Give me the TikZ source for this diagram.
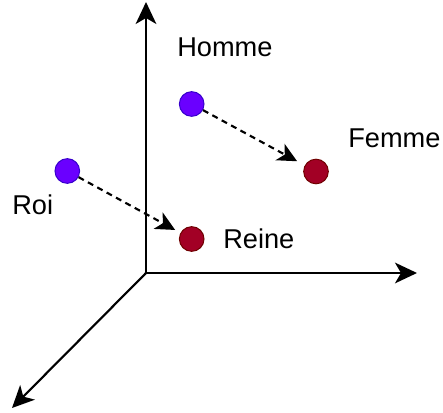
\documentclass[tikz,border=0pt]{standalone}
\usepackage{fontspec}
\setmainfont{Liberation Sans}
\usetikzlibrary{arrows.meta}
\definecolor{vfill}{HTML}{6A00FF}
\definecolor{vdraw}{HTML}{3700CC}
\definecolor{rfill}{HTML}{A20025}
\definecolor{rdraw}{HTML}{6F0000}
\tikzset{
  px/.style={x=0.75pt,y=-0.75pt},
  axis/.style={line width=1.6pt,-{Stealth[length=16.5pt,width=15.5pt,inset=4.5pt]}},
  vec/.style={line width=1.6pt,dash pattern=on 4.5pt off 3.5pt,
    -{Stealth[length=14.5pt,width=14pt,inset=4pt]}},
  blue dot/.style={circle,fill=vfill,draw=vdraw,line width=0.75pt,minimum size=18.5pt,inner sep=0pt},
  red dot/.style={circle,fill=rfill,draw=rdraw,line width=0.75pt,minimum size=18.5pt,inner sep=0pt},
  lbl/.style={anchor=base west,inner sep=0pt,font=\fontsize{20.4}{24}\selectfont}
}
\begin{document}
\begin{tikzpicture}[px]
\useasboundingbox (0,0) rectangle (443,413);
\coordinate (o) at (146,273);
\coordinate (ytip) at (146,2);
\coordinate (xtip) at (417,273);
\coordinate (ztip) at (12,408);
\draw[axis] (o) -- (ytip);
\draw[axis] (o) -- (xtip);
\draw[axis] (o) -- (ztip);
\node[blue dot] (homme) at (191.7,104) {};
\node[red dot] (femme) at (316,171.5) {};
\node[blue dot] (roi) at (67.3,171) {};
\node[red dot] (reine) at (191.7,239) {};
\draw[vec,shorten >=6.5pt] (homme) -- (femme);
\draw[vec,shorten >=4.5pt] (roi) -- (reine);
\node[lbl] (thomme) at (177,56.7) {Homme};
\node[lbl] (tfemme) at (348,147.7) {Femme};
\node[lbl] (troi) at (12,215) {Roi};
\node[lbl] (treine) at (223,248.3) {Reine};
\end{tikzpicture}
\end{document}
